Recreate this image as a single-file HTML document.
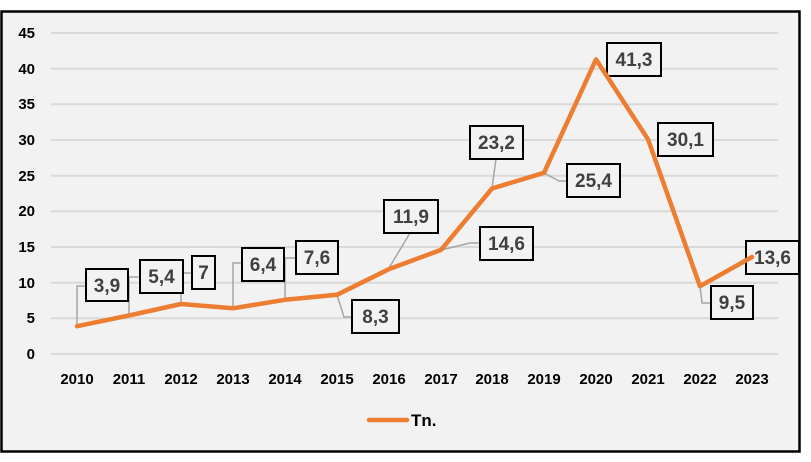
<!DOCTYPE html>
<html><head><meta charset="utf-8"><style>
html,body{margin:0;padding:0;background:#fff}
svg{display:block;font-family:"Liberation Sans",Arial,sans-serif;font-weight:bold}
</style></head><body>
<svg width="811" height="462" viewBox="0 0 811 462">
<rect x="1.5" y="11.5" width="798" height="440" fill="#f2f2f2" stroke="#000" stroke-width="2.5"/>
<g stroke="#d9d9d9" stroke-width="2">
<line x1="51" x2="778" y1="354" y2="354"/><line x1="51" x2="778" y1="318.3" y2="318.3"/>
<line x1="51" x2="778" y1="282.7" y2="282.7"/><line x1="51" x2="778" y1="247" y2="247"/>
<line x1="51" x2="778" y1="211.3" y2="211.3"/><line x1="51" x2="778" y1="175.7" y2="175.7"/>
<line x1="51" x2="778" y1="140" y2="140"/><line x1="51" x2="778" y1="104.3" y2="104.3"/>
<line x1="51" x2="778" y1="68.7" y2="68.7"/><line x1="51" x2="778" y1="33" y2="33"/>
</g>
<g font-size="15" fill="#000" text-anchor="end">
<text x="35" y="359">0</text><text x="35" y="323">5</text><text x="35" y="288">10</text>
<text x="35" y="252">15</text><text x="35" y="216">20</text><text x="35" y="181">25</text>
<text x="35" y="145">30</text><text x="35" y="109">35</text><text x="35" y="74">40</text><text x="35" y="38">45</text>
</g>
<g font-size="15" fill="#000" text-anchor="middle">
<text x="77" y="384">2010</text><text x="129" y="384">2011</text><text x="181" y="384">2012</text>
<text x="233" y="384">2013</text><text x="285" y="384">2014</text><text x="337" y="384">2015</text>
<text x="389" y="384">2016</text><text x="441" y="384">2017</text><text x="492" y="384">2018</text>
<text x="544" y="384">2019</text><text x="596" y="384">2020</text><text x="648" y="384">2021</text>
<text x="700" y="384">2022</text><text x="752" y="384">2023</text>
</g>
<g stroke="#a6a6a6" stroke-width="1.5" fill="none">
<polyline points="77,326 77,286 86,286"/>
<polyline points="129,316 129,277 140,277"/>
<polyline points="181,305 181,273 192,273"/>
<polyline points="233,309 233,263 242,263"/>
<polyline points="285,299 285,258 296,258"/>
<polyline points="337,295 344,317 352,317"/>
<polyline points="389,268 410,233"/>
<polyline points="441,250 470,243 480,243"/>
<polyline points="492,188 496,159"/>
<polyline points="544,173 559,181 567,181"/>
<polyline points="700,286 702,303 711,303"/>
</g>
<g fill="#f2f2f2" stroke="#000" stroke-width="2">
<rect x="86" y="269" width="42" height="32"/><rect x="140" y="260" width="43" height="33"/>
<rect x="192" y="256" width="23" height="33"/><rect x="242" y="248" width="42" height="33"/>
<rect x="296" y="241" width="42" height="33"/><rect x="352" y="300" width="47" height="33"/>
<rect x="384" y="200" width="54" height="33"/><rect x="480" y="227" width="53" height="33"/>
<rect x="470" y="126" width="53" height="33"/><rect x="567" y="164" width="53" height="33"/>
<rect x="607" y="43" width="54" height="33"/><rect x="658" y="123" width="55" height="33"/>
<rect x="711" y="286" width="42" height="33"/><rect x="746" y="241" width="53" height="33"/>
</g>
<polyline fill="none" stroke="#ed7d31" stroke-width="4.5" stroke-linejoin="round" stroke-linecap="round"
points="77,326.2 129,315.5 181,304 233,308.3 285,299.8 337,294.8 389,269.1 441,249.9 492,188.5 544,172.8 596,59.4 648,139.3 700,286.2 752,257"/>
<g font-size="19" fill="#404040" text-anchor="middle">
<text x="107" y="292">3,9</text><text x="161.5" y="283">5,4</text><text x="203.5" y="279">7</text>
<text x="263" y="271">6,4</text><text x="317" y="264">7,6</text><text x="375.5" y="323">8,3</text>
<text x="411" y="223">11,9</text><text x="506.5" y="250">14,6</text><text x="496.5" y="149">23,2</text>
<text x="593.5" y="187">25,4</text><text x="634" y="66">41,3</text><text x="685.5" y="146">30,1</text>
<text x="732" y="309">9,5</text><text x="772.5" y="264">13,6</text>
</g>
<line x1="369" y1="420" x2="407" y2="420" stroke="#ed7d31" stroke-width="4.5" stroke-linecap="round"/>
<text x="411" y="426" font-size="17" fill="#000">Tn.</text>
</svg>
</body></html>
